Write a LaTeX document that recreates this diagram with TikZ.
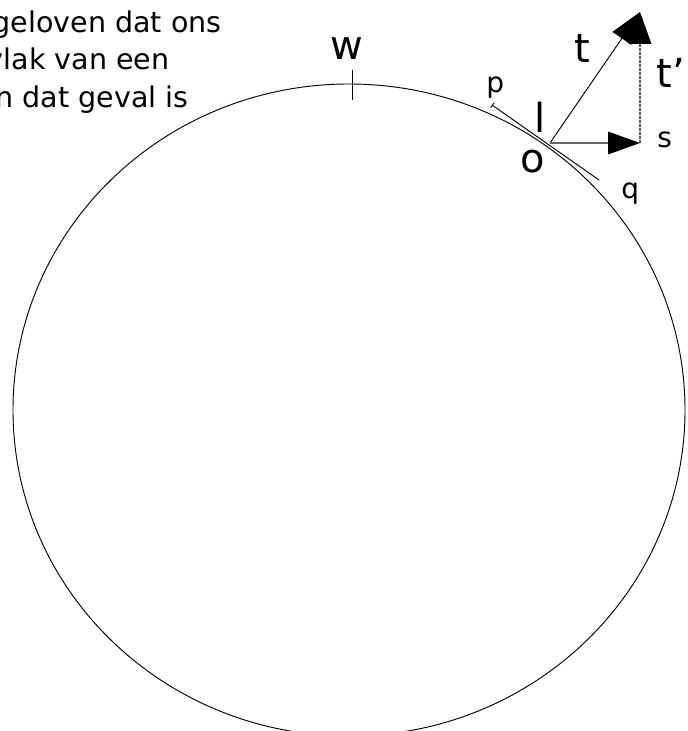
\documentclass[tikz,border=0pt]{standalone}
\usepackage{fontspec}
\setmainfont{DejaVu Sans}
\usetikzlibrary{arrows.meta}

\begin{document}
\begin{tikzpicture}[x=0.75pt,y=-0.75pt,line width=0.7pt,
    big/.style={font=\fontsize{30}{36}\selectfont, inner sep=0pt},
    small/.style={font=\fontsize{21}{25}\selectfont, inner sep=0pt, anchor=base west},
    txt/.style={font=\fontsize{21.4}{28}\selectfont, inner sep=0pt, anchor=base east},
    vec/.style={-{Triangle[length=24pt,width=17pt,color=black]}}]
    \useasboundingbox (0,0) rectangle (687,731);

    \node[txt] (line1) at (222,33) {geloven dat ons};
    \node[txt] (line2) at (170,70) {vlak van een};
    \node[txt] (line3) at (189,108) {n dat geval is};

    \draw (349,410) ellipse [x radius=336, y radius=326];

    \coordinate (o) at (550,143);
    \coordinate (tip) at (640,12);
    \coordinate (s) at (640,143);
    \coordinate (p) at (492,105);
    \coordinate (q) at (599,180);
    \coordinate (wtop) at (352,70);
    \coordinate (wbot) at (352,100);

    \draw (wtop) -- (wbot);
    \draw[{Bar[width=4.5pt]}-] (p) -- (q);
    \draw[vec] (o) -- (tip);
    \draw[vec, draw=black!60, line width=0.9pt] (o) -- (s);
    \draw[vec, draw=black!65, line width=0.9pt, dash pattern=on 2pt off 1pt] (s) -- (tip);

    \node[big, anchor=base] (wlabel) at (347,60) {w};
    \node[big, anchor=base] (tlabel) at (582,63) {t};
    \node[big, anchor=base west] (tprime) at (656,88) {t’};
    \node[big, anchor=base] (llabel) at (540,133) {l};
    \node[big, anchor=base] (olabel) at (533,172) {o};
    \node[small] (plabel) at (486,93) {p};
    \node[small] (qlabel) at (621,198) {q};
    \node[small] (slabel) at (657,147) {s};
\end{tikzpicture}
\end{document}
